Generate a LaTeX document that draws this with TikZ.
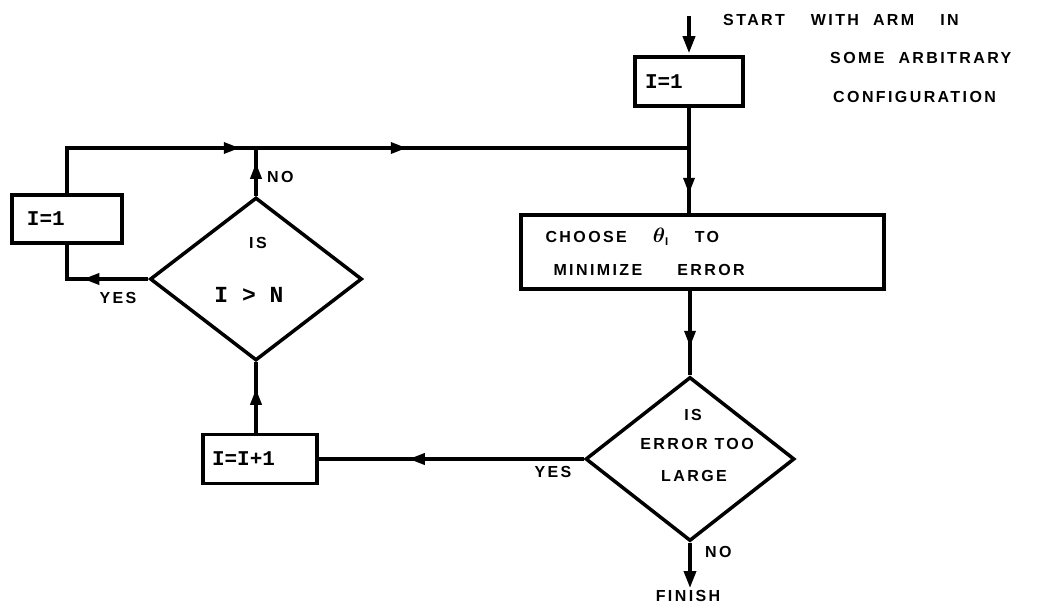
\documentclass[tikz,border=0pt]{standalone}
\usepackage{fontspec}
\usepackage{bm}
\setmainfont{Liberation Sans}[LetterSpace=15]
\newfontfamily\eqfont{Liberation Mono}
\usetikzlibrary{shapes.geometric,arrows.meta,decorations.markings}
\tikzset{
  boxnode/.style={draw, rectangle, line width=3.5pt, inner ysep=0pt, align=left,
    font=\eqfont\bfseries\fontsize{21}{24}\selectfont},
  dia/.style={draw, diamond, line width=3.5pt, inner sep=0pt},
  lbl/.style={inner sep=0pt, font=\bfseries\fontsize{16}{19}\selectfont},
  flow/.style={line width=3.5pt},
  tipend/.style={-{Triangle[length=17pt,width=12pt]}},
  midarrow/.style={postaction={decorate, decoration={markings,
    mark=at position #1 with {\arrow{Triangle[length=16pt,width=11pt]}}}}},
}
\begin{document}
\begin{tikzpicture}[x=1pt,y=-1pt]
\useasboundingbox (0,0) rectangle (1040,607);
% nodes
\node[boxnode, minimum width=108pt, minimum height=49pt, text width=88pt, inner xsep=10pt] (box1) at (689,81.5) {I=1};
\node[boxnode, minimum width=110pt, minimum height=48pt, text width=80pt, inner xsep=15pt] (box2) at (67,219) {I=1};
\node[boxnode, minimum width=114pt, minimum height=49pt, text width=96pt, inner xsep=9pt] (box3) at (260,459) {I=I+1};
\node[draw, rectangle, line width=3.5pt, minimum width=363pt, minimum height=74pt, text width=330pt, inner xsep=16.5pt, inner ysep=0pt, align=left, font=\bfseries\fontsize{16}{33}\selectfont] (main) at (702.5,252)
  {\hspace*{8pt}CHOOSE\hspace{26pt}{\fontsize{21}{21}\selectfont$\bm{\theta}$}$_{\mathbf{I}}$\hspace{26pt}TO\\\hspace*{16pt}MINIMIZE\hspace{35pt}ERROR};
\node[dia, minimum width=212pt, minimum height=163pt] (d1) at (256,279) {};
\node[dia, minimum width=209pt, minimum height=164pt] (d2) at (690,459) {};
% texts
\node[lbl] (d1a) at (258,243) {IS};
\node[inner sep=0pt, font=\eqfont\bfseries\fontsize{23}{26}\selectfont] (d1b) at (249,295) {I > N};
\node[lbl] (d2a) at (693,415) {IS};
\node[lbl] (d2b) at (697,444) {ERROR TOO};
\node[lbl] (d2c) at (694,476) {LARGE};
\node[lbl, anchor=west] (no1) at (267,177) {NO};
\node[lbl] (yes1) at (118,298) {YES};
\node[lbl] (yes2) at (553,472) {YES};
\node[lbl, anchor=west] (no2) at (705,552) {NO};
\node[lbl] (fin) at (688,596) {FINISH};
\node[lbl, anchor=west] (s1) at (723,20) {START\hspace{26pt}WITH\hspace{14pt}ARM\hspace{26pt}IN};
\node[lbl, anchor=west] (s2) at (830,58) {SOME\hspace{14pt}ARBITRARY};
\node[lbl, anchor=west] (s3) at (833,97) {CONFIGURATION};
% coordinates
\coordinate (start) at (689,16);
\coordinate (finish) at (690,588);
\coordinate (j1) at (689,148);
\coordinate (j0) at (256,148);
% connectors
\draw[flow, tipend, shorten >=2pt] (start) -- (box1.north);
\draw[flow, midarrow=86pt] (box1.south) -- (main.north -| box1.south);
\draw[flow, midarrow=33pt] (d1.north) -- (j0);
\draw[flow, postaction={decorate, decoration={markings,
    mark=at position 218pt with {\arrow{Triangle[length=16pt,width=11pt]}},
    mark=at position 385pt with {\arrow{Triangle[length=16pt,width=11pt]}}}}]
  (box2.north) |- (j1);
\draw[flow, midarrow=65pt] (d1.west) -| (box2.south);
\draw[flow, midarrow=56pt] (main.south -| d2.north) -- (d2.north);
\draw[flow, midarrow=175pt] (d2.west) -- (box3.east);
\draw[flow, midarrow=44pt] (d1.south |- box3.north) -- (d1.south);
\draw[flow, tipend] (d2.south) -- (finish);
\end{tikzpicture}
\end{document}
